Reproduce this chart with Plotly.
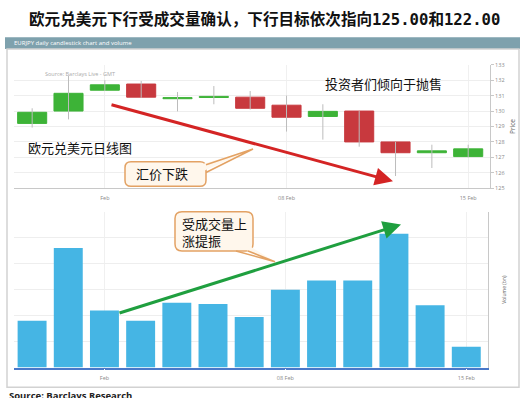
import plotly.graph_objects as go

# ---------------- data ----------------
dates = ["2013-01-30", "2013-01-31", "2013-02-01", "2013-02-04", "2013-02-05",
         "2013-02-06", "2013-02-07", "2013-02-08", "2013-02-11", "2013-02-12",
         "2013-02-13", "2013-02-14", "2013-02-15"]
open_ = [129.20, 130.00, 131.35, 131.75, 130.80, 130.88, 130.90, 130.38, 129.65, 130.00, 128.00, 127.30, 127.05]
close = [129.92, 131.15, 131.70, 130.90, 130.87, 130.95, 130.18, 129.60, 129.98, 128.00, 127.30, 127.42, 127.55]
high = [130.18, 132.28, 132.00, 131.95, 131.23, 131.62, 131.30, 131.00, 130.44, 130.00, 128.00, 127.82, 127.82]
low = [128.93, 129.46, 131.30, 130.85, 129.98, 130.44, 130.10, 128.67, 128.15, 127.69, 125.79, 126.31, 127.00]
volume = [1.8, 4.6, 2.2, 1.8, 2.5, 2.45, 1.95, 3.0, 3.35, 3.35, 5.15, 2.4, 0.8]

tick_dates = ["2013-02-01", "2013-02-08", "2013-02-15"]
tick_text = ["Feb", "08 Feb", "15 Feb"]
price_ticks = [125, 126, 127, 128, 129, 130, 131, 132, 133]

title_text = "欧元兑美元下行受成交量确认，下行目标依次指向125.00和122.00"
header_text = "EURJPY daily candlestick chart and volume"

W, H = 525, 398
def X(p): return p / W
def Y(p): return 1 - p / H

GREEN = "#3db337"
RED = "#c8393e"
BLUE = "#45b5e4"
WICK = "#bcbcbc"

fig = go.Figure()

# wicks
wx, wy = [], []
for d, h, l in zip(dates, high, low):
    wx += [d, d, None]
    wy += [l, h, None]
fig.add_trace(go.Scatter(x=wx, y=wy, mode="lines", line=dict(color=WICK, width=1),
                         hoverinfo="skip", xaxis="x", yaxis="y"))

# bodies
bx, bbase, bh, bc = [], [], [], []
for d, o, c in zip(dates, open_, close):
    bx.append(d)
    bbase.append(min(o, c))
    bh.append(abs(c - o))
    bc.append(GREEN if c >= o else RED)
fig.add_trace(go.Bar(x=bx, y=bh, base=bbase, width=0.8,
                     marker=dict(color=bc, line=dict(color=bc, width=1)),
                     xaxis="x", yaxis="y"))

# volume
fig.add_trace(go.Bar(x=dates, y=volume, width=0.8, marker=dict(color=BLUE, line=dict(width=0)),
                     xaxis="x2", yaxis="y2"))

tickfont = dict(family="Open Sans", size=5.5, color="#8a8a8a")
xr = [-0.5, 12.6]

fig.update_layout(
    width=W, height=H, margin=dict(l=0, r=0, t=0, b=0),
    paper_bgcolor="white", plot_bgcolor="white", showlegend=False,
    barmode="overlay",
    xaxis=dict(domain=[X(14), X(490)], anchor="y", type="category", range=xr,
               tickvals=tick_dates, ticktext=tick_text, tickfont=tickfont,
               showline=True, linecolor="#c8c8c8", linewidth=1,
               showgrid=True, gridcolor="#f0f0f0", ticks="outside", ticklen=4, tickcolor="white",
               zeroline=False),
    yaxis=dict(domain=[Y(188), Y(62)], anchor="x", side="right", range=[125, 133],
               tickvals=price_ticks, tickfont=tickfont,
               showline=True, linecolor="#c8c8c8", linewidth=1,
               ticks="outside", ticklen=3, tickcolor="#c8c8c8",
               showgrid=True, gridcolor="#eeeeee", zeroline=False,
               title=dict(text="Price", font=dict(family="Open Sans", size=6.5, color="#666"), standoff=6)),
    xaxis2=dict(domain=[X(14), X(488)], anchor="y2", type="category", range=xr,
                tickvals=tick_dates, ticktext=tick_text, tickfont=tickfont,
                showline=True, linecolor="#4a78c8", linewidth=1.5,
                showgrid=True, gridcolor="#f0f0f0", ticks="outside", ticklen=4, tickcolor="white",
                zeroline=False),
    yaxis2=dict(domain=[Y(371), Y(212)], anchor="x2", side="right", range=[0, 6], dtick=1,
                showticklabels=False, showline=True, linecolor="#c8c8c8", linewidth=1,
                showgrid=True, gridcolor="#eeeeee", zeroline=False,
                title=dict(text="Volume (bn)", font=dict(family="Open Sans", size=5, color="#666"), standoff=14)),
)

shapes = []
# header bar
shapes.append(dict(type="rect", xref="paper", yref="paper", x0=X(5), x1=X(520), y0=Y(46), y1=Y(34),
                   fillcolor="#7ea1ad", line=dict(width=0), layer="below"))
# outer panel border
shapes.append(dict(type="rect", xref="paper", yref="paper", x0=X(7), x1=X(519), y0=Y(391), y1=Y(46),
                   fillcolor="rgba(0,0,0,0)", line=dict(color="#d2d2d2", width=1.5), layer="below"))

def rrect(x0, y0, x1, y1, r):
    pts = [("M", [(x0 + r, y0)]), ("L", [(x1 - r, y0)]), ("Q", [(x1, y0), (x1, y0 + r)]),
           ("L", [(x1, y1 - r)]), ("Q", [(x1, y1), (x1 - r, y1)]), ("L", [(x0 + r, y1)]),
           ("Q", [(x0, y1), (x0, y1 - r)]), ("L", [(x0, y0 + r)]), ("Q", [(x0, y0), (x0 + r, y0)])]
    s = ""
    for cmd, ps in pts:
        s += cmd + " " + " ".join(f"{X(a):.5f},{Y(b):.5f}" for a, b in ps) + " "
    return s + "Z"

def poly(points, close=True):
    s = "M " + " L ".join(f"{X(a):.5f},{Y(b):.5f}" for a, b in points)
    return s + (" Z" if close else "")

BOX_FILL = "#fff7ec"
BOX_LINE = "#e3a264"

# callout 1
shapes.append(dict(type="path", xref="paper", yref="paper", path=rrect(125, 161, 206, 186, 6),
                   fillcolor=BOX_FILL, line=dict(color=BOX_LINE, width=1.5)))
shapes.append(dict(type="path", xref="paper", yref="paper", path=poly([(200, 164), (253, 148), (200, 172)]),
                   fillcolor=BOX_FILL, line=dict(width=0)))
shapes.append(dict(type="path", xref="paper", yref="paper", path=poly([(206, 164), (253, 148), (206, 172)], close=False),
                   fillcolor="rgba(0,0,0,0)", line=dict(color=BOX_LINE, width=1.5)))
# callout 2
shapes.append(dict(type="path", xref="paper", yref="paper", path=rrect(175, 212, 253, 252, 7),
                   fillcolor=BOX_FILL, line=dict(color=BOX_LINE, width=1.5)))
shapes.append(dict(type="path", xref="paper", yref="paper", path=poly([(234, 246), (275, 263), (248, 246)]),
                   fillcolor=BOX_FILL, line=dict(width=0)))
shapes.append(dict(type="path", xref="paper", yref="paper", path=poly([(236, 252), (275, 263), (248, 252)], close=False),
                   fillcolor="rgba(0,0,0,0)", line=dict(color=BOX_LINE, width=1.5)))
fig.update_layout(shapes=shapes)

cjk = "Noto Sans CJK SC"
ann = []
ann.append(dict(xref="paper", yref="paper", x=X(264), y=Y(16), text="<b>" + title_text + "</b>",
                showarrow=False, xanchor="center", yanchor="middle",
                font=dict(family="DejaVu Sans Mono, " + cjk, size=15.6, color="#111")))
ann.append(dict(xref="paper", yref="paper", x=X(12), y=Y(40), text=header_text, showarrow=False,
                xanchor="left", yanchor="middle", font=dict(family="Open Sans", size=6, color="white")))
ann.append(dict(xref="paper", yref="paper", x=X(43), y=Y(71), text="Source: Barclays Live - GMT", showarrow=False,
                xanchor="left", yanchor="middle", font=dict(family="Open Sans", size=5.5, color="#aaaaaa")))
ann.append(dict(xref="paper", yref="paper", x=X(26), y=Y(146), text="欧元兑美元日线图", showarrow=False,
                xanchor="left", yanchor="middle", font=dict(family=cjk, size=13, color="#111")))
ann.append(dict(xref="paper", yref="paper", x=X(383), y=Y(81), text="投资者们倾向于抛售", showarrow=False,
                xanchor="center", yanchor="middle", font=dict(family=cjk, size=13, color="#111")))
ann.append(dict(xref="paper", yref="paper", x=X(162), y=Y(173), text="汇价下跌", showarrow=False,
                xanchor="center", yanchor="middle", font=dict(family=cjk, size=13, color="#111")))
ann.append(dict(xref="paper", yref="paper", x=X(180), y=Y(233), text="受成交量上<br>涨提振", showarrow=False,
                xanchor="left", yanchor="middle", align="left", font=dict(family=cjk, size=13, color="#111")))
ann.append(dict(xref="paper", yref="paper", x=X(7), y=Y(391), text="<b>Source: Barclays Research</b>", showarrow=False,
                xanchor="left", yanchor="top", font=dict(family="Open Sans", size=9.5, color="#222")))
# red arrow
ann.append(dict(xref="paper", yref="paper", x=X(393), y=Y(181), ax=110 - 393, ay=104 - 181,
                axref="pixel", ayref="pixel", text="", showarrow=True, arrowhead=2, arrowsize=1.2,
                arrowwidth=3, arrowcolor="#d42424"))
# green arrow
ann.append(dict(xref="paper", yref="paper", x=X(401), y=Y(225), ax=118 - 401, ay=314 - 225,
                axref="pixel", ayref="pixel", text="", showarrow=True, arrowhead=2, arrowsize=1.2,
                arrowwidth=3, arrowcolor="#1f9f3f"))
fig.update_layout(annotations=ann)

fig.write_html("out.html", config={"displayModeBar": False},
               post_script="document.body.style.margin='0';document.body.style.overflow='hidden';")
